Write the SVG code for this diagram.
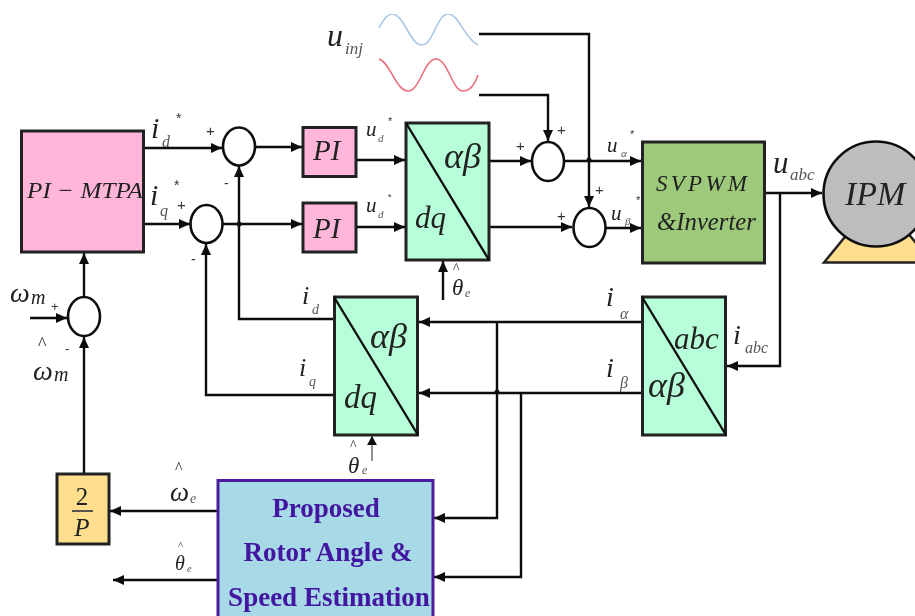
<svg xmlns="http://www.w3.org/2000/svg" width="915" height="616" viewBox="0 0 915 616">
<style>
text{font-family:"Liberation Serif","Times New Roman",serif;fill:#222}
.i{font-style:italic}
.s{font-family:"Liberation Sans",Arial,sans-serif;fill:#333}
.sub{fill:#555}
.box{stroke:#222;stroke-width:3}
.sum{fill:#fff;stroke:#111;stroke-width:2.6}
.d{stroke:#111;stroke-width:2.4;fill:none}
.c{stroke:#111;stroke-width:2.4;fill:none;marker-end:url(#a)}
.b{font-weight:bold;fill:#4212a0;font-size:27px;text-anchor:middle}
</style>
<defs>
<marker id="a" markerUnits="userSpaceOnUse" markerWidth="12" markerHeight="12" refX="11" refY="6" orient="auto"><path d="M0 1L11 6L0 11Z" fill="#111"/></marker>
<filter id="soft" x="0" y="0" width="100%" height="100%"><feGaussianBlur stdDeviation="0.5"/></filter>
</defs>
<rect width="915" height="616" fill="#fff"/>
<g filter="url(#soft)">
<g id="connectors">
<path class="c" d="M144 148H222"/>
<path class="c" d="M144 224H190"/>
<path class="c" d="M255 147H302"/>
<path class="c" d="M223 224H302"/>
<path class="c" d="M356 160H405"/>
<path class="c" d="M356 227H405"/>
<path class="c" d="M489 161H531"/>
<path class="c" d="M564 161H641"/>
<path class="c" d="M489 227H572"/>
<path class="c" d="M606 228H641"/>
<path class="c" d="M479 34H589V207"/>
<path class="c" d="M479 95H548V141"/>
<path class="c" d="M443 300V261"/>
<path class="c" d="M765 193H822"/>
<path class="c" d="M780 193V366H727"/>
<path class="c" d="M642 322H419"/>
<path class="c" d="M642 393H419"/>
<path class="c" d="M497 322V518H434"/>
<path class="c" d="M521 393V577H434"/>
<path class="c" d="M334 319H239V166"/>
<path class="c" d="M334 395H206V244"/>
<path d="M372 461V436" fill="none" stroke="#777" stroke-width="1.6"/>
<path d="M367 445L372 436L377 445Z" fill="#111"/>
<path class="c" d="M218 511H110"/>
<path class="c" d="M218 580H113"/>
<path class="c" d="M84 474V337"/>
<path class="c" d="M84 297V253"/>
<path class="c" d="M30 318H67"/>
<circle cx="239" cy="224" r="2.5" fill="#111"/>
<circle cx="589" cy="160" r="2.5" fill="#111"/>
<circle cx="497" cy="392" r="2.5" fill="#111"/>
</g>
<g id="pi-mtpa"><rect class="box" x="21.500" y="131" width="122" height="121" fill="#ffb6d9"/><text class="i" x="27" y="198" font-size="23" textLength="116" lengthAdjust="spacingAndGlyphs">PI − MTPA</text></g>
<g id="sum1"><ellipse class="sum" cx="239" cy="146.500" rx="16" ry="19"/></g>
<g id="sum2"><ellipse class="sum" cx="206.500" cy="224" rx="16" ry="19"/></g>
<g id="sum3"><ellipse class="sum" cx="84" cy="316.500" rx="16" ry="19.500"/></g>
<g id="sum4"><ellipse class="sum" cx="548" cy="161.500" rx="16" ry="19.500"/></g>
<g id="sum5"><ellipse class="sum" cx="589.500" cy="227.500" rx="16" ry="19.500"/></g>
<g id="pi1"><rect class="box" x="303" y="127.500" width="53" height="49" fill="#ffb6d9"/><text class="i" x="313" y="160" font-size="29">PI</text></g>
<g id="pi2"><rect class="box" x="303" y="203" width="53" height="49" fill="#ffb6d9"/><text class="i" x="313" y="238" font-size="29">PI</text></g>
<g id="dq-ab-1"><rect class="box" x="406" y="123" width="83" height="137" fill="#b6ffd8"/><path class="d" d="M406 123L489 260"/><text class="i" x="444" y="168" font-size="36">αβ</text><text class="i" x="415" y="228" font-size="31">dq</text></g>
<g id="svpwm"><rect class="box" x="642.500" y="142" width="122" height="121" fill="#9cc97a"/><text class="i" x="656" y="191" font-size="23" textLength="91" lengthAdjust="spacing">SVPWM</text><text class="i" x="657" y="230" font-size="25" textLength="99" lengthAdjust="spacingAndGlyphs">&amp;Inverter</text></g>
<g id="abc-ab"><rect class="box" x="642.500" y="297" width="83" height="138" fill="#b6ffd8"/><path class="d" d="M642 297L726 435"/><text class="i" x="674" y="349" font-size="31">abc</text><text class="i" x="648" y="397" font-size="36">αβ</text></g>
<g id="dq-ab-2"><rect class="box" x="334.500" y="297" width="83" height="138" fill="#b6ffd8"/><path class="d" d="M334 297L418 435"/><text class="i" x="370" y="348" font-size="36">αβ</text><text class="i" x="344" y="408" font-size="33">dq</text></g>
<g id="motor"><path d="M824 262.500L849 232H907L932 262.500Z" fill="#ffdf8e" stroke="#222" stroke-width="2.500"/><circle cx="876" cy="194" r="52.500" fill="#bdbdbd" stroke="#111" stroke-width="2.600"/><text class="i" x="845" y="205" font-size="34">IPM</text></g>
<g id="gain"><rect class="box" x="57" y="474" width="52" height="70" fill="#ffdf8e"/><text x="82" y="505" font-size="25" text-anchor="middle">2</text><path d="M72 511H93" stroke="#444" stroke-width="1.800"/><text class="i" x="82" y="536" font-size="25" text-anchor="middle">P</text></g>
<g id="estimator"><path d="M218 616V480.500H433V616" fill="#a8d9e6" stroke="#4b1ea0" stroke-width="3"/><text class="b" x="326" y="517">Proposed</text><text class="b" x="328" y="561">Rotor Angle &amp;</text><text class="b" x="329" y="606">Speed Estimation</text></g>
<g id="injection"><path d="M379 28C383 20 387 14 392 14C404 14 410 45 422 45C433 45 437 14 448 14C459 14 464 38 478 45" fill="none" stroke="#a9c4e2" stroke-width="1.600"/><path d="M379 59C390 62 396 91 408 91C420 91 424 59 436 59C448 59 452 91 463 91C470 91 475 84 478 75" fill="none" stroke="#e6727c" stroke-width="1.600"/><text class="i" x="327" y="46" font-size="32">u</text><text class="i sub" x="345" y="54" font-size="17">inj</text></g>
<g id="labels">
<text class="i" x="151" y="138" font-size="30">i</text><text class="i sub" x="162" y="147" font-size="16">d</text><text class="s" x="176" y="123" font-size="14">*</text>
<text class="i" x="150" y="205" font-size="30">i</text><text class="i sub" x="160" y="216" font-size="16">q</text><text class="s" x="174" y="190" font-size="14">*</text>
<text class="s" x="206" y="136" font-size="15">+</text><text class="s" x="177" y="210" font-size="15">+</text>
<text class="s" x="224" y="188" font-size="14">-</text><text class="s" x="191" y="264" font-size="14">-</text>
<text class="i" x="10" y="302" font-size="28">ω</text><text class="i" x="31" y="304" font-size="20">m</text><text class="s" x="51" y="311" font-size="13">+</text>
<text x="38" y="350" font-size="18" fill="#555">^</text><text class="s" x="65" y="353" font-size="13">-</text>
<text class="i" x="33" y="380" font-size="28">ω</text><text class="i" x="54" y="381" font-size="20">m</text>
<text class="i" x="366" y="136" font-size="21">u</text><text class="i sub" x="378" y="142" font-size="11">d</text><text class="s" x="388" y="125" font-size="11">*</text>
<text class="i" x="366" y="212" font-size="21">u</text><text class="i sub" x="378" y="218" font-size="11">d</text><text class="s" x="388" y="200" font-size="9">*</text>
<text class="s" x="516" y="151" font-size="15">+</text><text class="s" x="557" y="135" font-size="15">+</text><text class="s" x="595" y="195" font-size="15">+</text><text class="s" x="557" y="221" font-size="15">+</text>
<text class="i" x="607" y="152" font-size="21">u</text><text class="i sub" x="621" y="157" font-size="11">α</text><text class="s" x="630" y="138" font-size="11">*</text>
<text class="i" x="611" y="220" font-size="21">u</text><text class="i sub" x="625" y="225" font-size="11">β</text><text class="s" x="636" y="204" font-size="11">*</text>
<text class="i" x="773" y="173" font-size="31">u</text><text class="i sub" x="790" y="180" font-size="17">abc</text>
<text class="i" x="606" y="306" font-size="28">i</text><text class="i sub" x="620" y="319" font-size="16">α</text>
<text class="i" x="606" y="377" font-size="28">i</text><text class="i sub" x="620" y="388" font-size="16">β</text>
<text class="i" x="733" y="344" font-size="28">i</text><text class="i sub" x="745" y="353" font-size="16">abc</text>
<text class="i" x="302" y="304" font-size="26">i</text><text class="i sub" x="312" y="314" font-size="14">d</text>
<text class="i" x="299" y="376" font-size="26">i</text><text class="i sub" x="309" y="386" font-size="14">q</text>
<text x="453" y="273" font-size="14" fill="#555">^</text><text class="i" x="452" y="295" font-size="23">θ</text><text class="i sub" x="465" y="297" font-size="12">e</text>
<text x="350" y="450" font-size="14" fill="#555">^</text><text class="i" x="348" y="473" font-size="23">θ</text><text class="i sub" x="362" y="474" font-size="12">e</text>
<text x="175" y="473" font-size="16" fill="#555">^</text><text class="i" x="170" y="501" font-size="27">ω</text><text class="i sub" x="190" y="503" font-size="14">e</text>
<text x="178" y="549" font-size="11" fill="#555">^</text><text class="i" x="175" y="570" font-size="20">θ</text><text class="i sub" x="187" y="572" font-size="10">e</text>
</g>
</g>
</svg>
